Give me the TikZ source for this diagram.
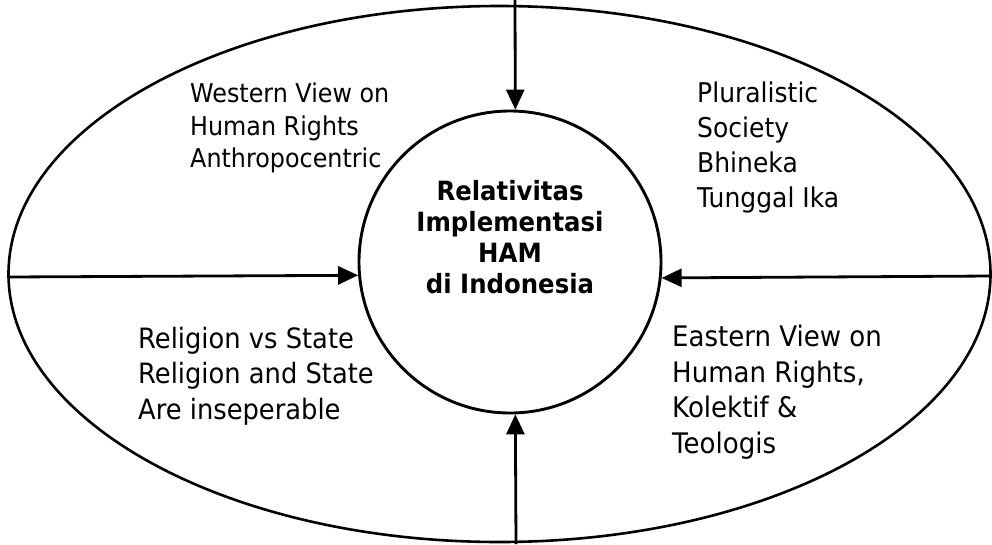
\documentclass[tikz,border=0pt]{standalone}
\usepackage{fontspec}
\setmainfont{DejaVu Sans}[FakeStretch=0.92]
\usetikzlibrary{arrows.meta}
\begin{document}
\begin{tikzpicture}[x=1pt,y=-1pt,
  outline/.style={draw=black, line width=2.6pt},
  conn/.style={draw=black, line width=2.8pt, -{Triangle[length=20pt,width=18pt]}},
  lbl/.style={anchor=north west, inner sep=0pt, align=left},
]
\useasboundingbox (0,0) rectangle (992,544);
\fill[white] (0,0) rectangle (992,544);
\draw[outline] (499.5,274) ellipse [x radius=491, y radius=268];
\node[circle, draw=black, line width=2.9pt, minimum size=302pt, inner sep=0pt] (c) at (510,262) {};
\node[anchor=north, inner sep=0pt, align=center, font=\fontsize{26.5}{31}\selectfont\bfseries] (ctext) at (510,180)
  {Relativitas\\Implementasi\\HAM\\di Indonesia};
\node[lbl, font=\fontsize{25.9}{32.5}\selectfont] (west) at (190,83)
  {Western View on\\Human Rights\\Anthropocentric};
\node[lbl, font=\fontsize{27.2}{35}\selectfont] (plur) at (697,82)
  {Pluralistic\\Society\\Bhineka\\Tunggal Ika};
\node[lbl, font=\fontsize{28}{35.5}\selectfont] (relig) at (138,327)
  {Religion vs State\\Religion and State\\Are inseperable};
\node[lbl, font=\fontsize{28.3}{35.5}\selectfont] (east) at (672,325)
  {Eastern View on\\Human Rights,\\Kolektif \&\\Teologis};
\coordinate (tA) at (515,0);
\coordinate (bA) at (516,544);
\coordinate (lA) at (8,277);
\coordinate (rA) at (991,276);
\draw[conn] (tA) -- (c.88);
\draw[conn] (bA) -- (c.272);
\draw[conn] (lA) -- (c.185.7);
\draw[conn] (rA) -- (c.354.6);
\end{tikzpicture}
\end{document}
